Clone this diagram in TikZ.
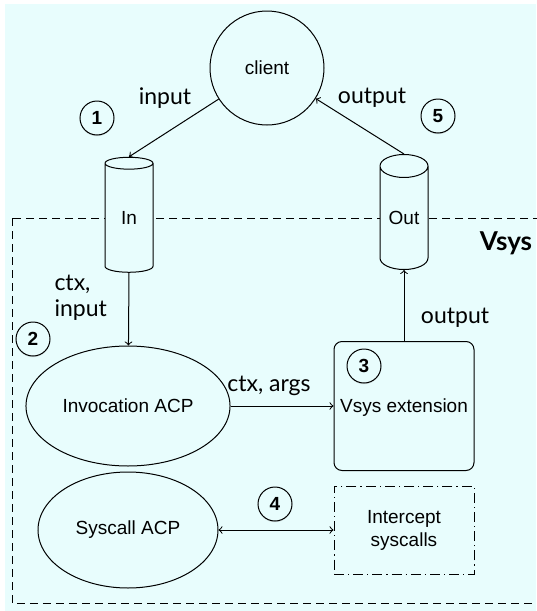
\documentclass[tikz,border=0pt]{standalone}
\usepackage{fontspec}
\setmainfont{Liberation Sans}
\newfontfamily\lblfont{Lato}
\usepackage{xcolor}
\usetikzlibrary{shapes.geometric,shadows,arrows}
\definecolor{bgcyan}{RGB}{232,253,253}

\tikzset{
  proc/.style={draw, ellipse, minimum width=90pt, minimum height=60pt, font=\fontsize{9.5}{11}\selectfont},
  store/.style={draw, cylinder, shape border rotate=90, aspect=0.75, minimum width=24pt, minimum height=57.5pt, inner sep=0pt, fill=bgcyan, font=\fontsize{9.5}{11}\selectfont},
  stepnum/.style={draw, circle, fill=bgcyan, minimum size=17pt, inner sep=0pt, font=\bfseries\fontsize{9.5}{11}\selectfont,
    drop shadow={shadow xshift=0pt, shadow yshift=-0.6pt, opacity=0.25}},
  lbl/.style={font=\lblfont\fontsize{11.5}{13}\selectfont, inner sep=0pt},
}

\begin{document}
\begin{tikzpicture}[x=0.5pt, y=-0.5pt, line width=0.5pt, >=to]
\useasboundingbox (0,0) rectangle (536,611);
\fill[bgcyan] (5,4) rectangle (536,611);
% the Vsys boundary
\draw[dashed, dash pattern=on 4pt off 2.5pt] (12,218) rectangle (548,603);
\node[font=\lblfont\bfseries\fontsize{13}{15}\selectfont] (vsys) at (506,243) {Vsys};

\node[draw, circle, minimum size=57pt, font=\fontsize{9.5}{11}\selectfont] (client) at (267,68) {client};
\node[store] (in) at (129,218) {In};
\node[store] (out) at (404,218) {Out};
\node[proc] (inv) at (128,406) {Invocation ACP};
\node[proc, minimum height=58pt] (sys) at (128,530) {Syscall ACP};
\node[draw, rounded corners=4pt, minimum width=70pt, minimum height=64.5pt, text depth=0pt, font=\fontsize{9.5}{11}\selectfont] (ext) at (404,406) {};
\node[font=\fontsize{9.5}{11}\selectfont] (exttext) at (404,408) {Vsys extension};
\node[draw, dash pattern=on 5pt off 2pt on 0.6pt off 2pt, minimum width=70pt, minimum height=44pt, align=center, font=\fontsize{9.5}{11.5}\selectfont] (icpt) at (404,530) {Intercept\\syscalls};

% steps
\node[stepnum] (s1) at (97,118) {1};
\node[stepnum] (s5) at (438,116) {5};
\node[stepnum] (s2) at (33,339) {2};
\node[stepnum] (s3) at (364,366) {3};
\node[stepnum] (s4) at (275,504) {4};

% flows
\draw[->] (client) -- (in.top);
\draw[->] (out.top) -- (client);
\draw[->] (in.bottom) -- (inv);
\draw[->] (inv) -- (ext);
\draw[->] (ext) -- (out.bottom);
\draw[<->] (sys) -- (icpt);

\node[lbl] (l1) at (165,98) {input};
\node[lbl] (l5) at (372,98) {output};
\node[lbl, align=left, anchor=west] (l2) at (54,298) {ctx,\\input};
\node[lbl] (l3) at (269,386) {ctx, args};
\node[lbl] (l4) at (455,318) {output};
\end{tikzpicture}
\end{document}
